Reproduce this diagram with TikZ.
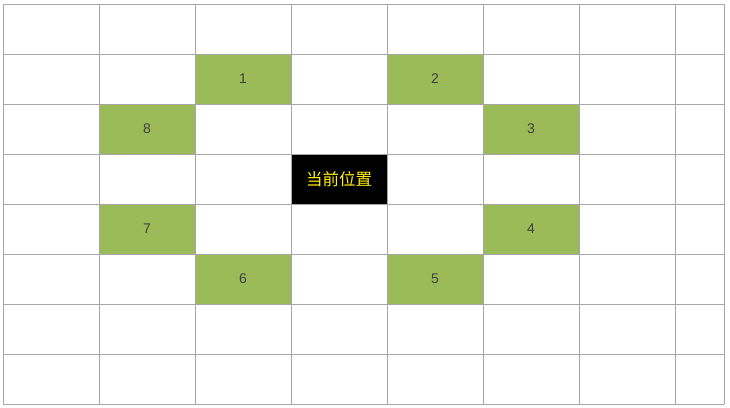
\documentclass[tikz,border=0pt]{standalone}
\usepackage{fontspec}
\setmainfont{Liberation Sans}
\newfontfamily\cjk{Noto Sans CJK SC}
\definecolor{gridgray}{HTML}{A6A6A6}
\definecolor{cellgreen}{HTML}{9BBB59}
\definecolor{numgray}{HTML}{404040}
\definecolor{curyellow}{HTML}{FFF200}
\begin{document}
\begin{tikzpicture}[x=1pt,y=-1pt,
  greencell/.style={fill=cellgreen,draw=none,minimum width=96pt,minimum height=50pt,inner sep=0pt,
    text=numgray,font=\fontsize{14}{16}\selectfont},
  curcell/.style={fill=black,draw=none,minimum width=96pt,minimum height=50pt,inner sep=0pt,
    text=curyellow,font=\cjk\fontsize{16.5}{18}\selectfont}]
\useasboundingbox (0,0) rectangle (730,407);
\fill[white] (0,0) rectangle (730,407);
% cells: centre x = 3+96c+48, centre y = 4+50r+25
\node[greencell] (n1) at (243,79) {1};
\node[greencell] (n2) at (435,79) {2};
\node[greencell] (n8) at (147,129) {8};
\node[greencell] (n3) at (531,129) {3};
\node[greencell] (n7) at (147,229) {7};
\node[greencell] (n4) at (531,229) {4};
\node[greencell] (n6) at (243,279) {6};
\node[greencell] (n5) at (435,279) {5};
\node[curcell] (cur) at (339,179) {当前位置};
% grid
\foreach \x in {3,99,195,291,387,483,579,675,724}
  \draw[gridgray,line width=1pt] (\x,4) -- (\x,404);
\foreach \y in {4,54,104,154,204,254,304,354,404}
  \draw[gridgray,line width=1pt] (3,\y) -- (724,\y);
\end{tikzpicture}
\end{document}
